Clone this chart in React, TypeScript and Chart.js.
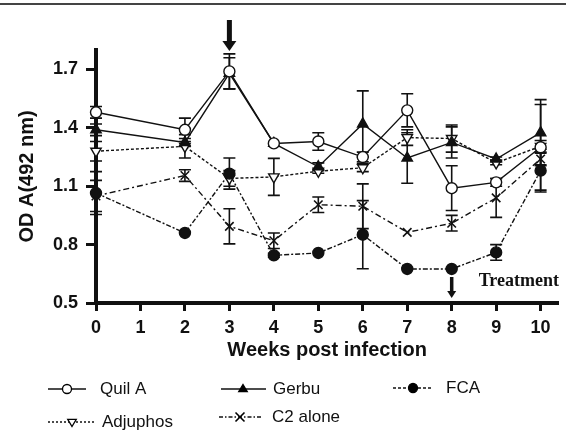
import React, { useEffect, useRef } from 'react';
import { Chart, registerables } from 'chart.js';

Chart.register(...registerables);

// ---- data ----
const weeks = [0, 2, 3, 4, 5, 6, 7, 8, 9, 10];
const xTickValues = [0, 1, 2, 3, 4, 5, 6, 7, 8, 9, 10];
const yTickValues = [0.5, 0.8, 1.1, 1.4, 1.7];

const quilA = [1.48, 1.39, 1.69, 1.32, 1.33, 1.25, 1.49, 1.09, 1.12, 1.3];
const quilAErr = [0.03, 0.06, 0.09, 0.0, 0.045, 0.025, 0.085, 0.115, 0.02, 0.22];

const gerbu = [1.39, 1.325, 1.68, 1.32, 1.2, 1.42, 1.245, 1.325, 1.24, 1.375];
const gerbuErr = [0.03, 0.02, 0.08, 0.0, 0.02, 0.17, 0.13, 0.08, 0.01, 0.17];

const fca = [1.065, 0.86, 1.165, 0.745, 0.757, 0.851, 0.675, 0.675, 0.76, 1.18];
const fcaErr = [0.11, 0.0, 0.08, 0.01, 0.0, 0.175, 0.0, 0.0, 0.04, 0.11];

const adjuphos = [1.28, 1.305, 1.14, 1.148, 1.177, 1.195, 1.35, 1.345, 1.22, 1.305];
const adjuphosErr = [0.05, 0.06, 0.04, 0.095, 0.01, 0.02, 0.04, 0.07, 0.01, 0.03];

const c2alone = [1.05, 1.155, 0.894, 0.82, 1.005, 0.997, 0.863, 0.91, 1.04, 1.24];
const c2aloneErr = [0.08, 0.03, 0.09, 0.04, 0.04, 0.115, 0.0, 0.04, 0.1, 0.03];

const seriesNames = ['Quil A', 'Gerbu', 'FCA', 'Adjuphos', 'C2 alone'];
const arrowWeeks = [3, 8];
const treatmentLabel = 'Treatment';
const xTitle = 'Weeks post infection';
const yTitle = 'OD A(492 nm)';

const SANS = '"Liberation Sans", Arial, Helvetica, sans-serif';
const SERIF = '"Liberation Serif", "Times New Roman", serif';

const toXY = (vals: number[]) => weeks.map((w, i) => ({ x: w, y: vals[i] }));

type Marker = 'circleOpen' | 'triUp' | 'circleFilled' | 'triDownOpen' | 'cross';

const styles: { marker: Marker; dash: number[]; legendDash: number[] }[] = [
  { marker: 'circleOpen', dash: [], legendDash: [] },
  { marker: 'triUp', dash: [], legendDash: [] },
  { marker: 'circleFilled', dash: [5, 2, 2, 2], legendDash: [3, 2] },
  { marker: 'triDownOpen', dash: [3, 2], legendDash: [2, 2] },
  { marker: 'cross', dash: [6, 3, 2, 3], legendDash: [4, 2, 1.5, 2] },
];

const errorSets = [quilAErr, gerbuErr, fcaErr, adjuphosErr, c2aloneErr];

function drawMarker(ctx: CanvasRenderingContext2D, m: Marker, x: number, y: number, r: number) {
  ctx.save();
  ctx.setLineDash([]);
  ctx.lineWidth = 1.3;
  ctx.strokeStyle = '#000';
  ctx.fillStyle = '#000';
  ctx.beginPath();
  if (m === 'circleOpen' || m === 'circleFilled') {
    ctx.arc(x, y, r, 0, Math.PI * 2);
    ctx.fillStyle = m === 'circleOpen' ? '#fff' : '#000';
    ctx.fill();
    ctx.stroke();
  } else if (m === 'triUp' || m === 'triDownOpen') {
    const s = m === 'triUp' ? 1 : -1;
    ctx.moveTo(x, y - s * r);
    ctx.lineTo(x + r * 0.95, y + s * r * 0.6);
    ctx.lineTo(x - r * 0.95, y + s * r * 0.6);
    ctx.closePath();
    ctx.fillStyle = m === 'triUp' ? '#000' : '#fff';
    ctx.fill();
    ctx.stroke();
  } else {
    ctx.lineWidth = 1.6;
    ctx.moveTo(x - r, y - r);
    ctx.lineTo(x + r, y + r);
    ctx.moveTo(x + r, y - r);
    ctx.lineTo(x - r, y + r);
    ctx.stroke();
  }
  ctx.restore();
}

const decorPlugin = {
  id: 'decor',
  beforeDraw(chart: any) {
    const ctx = chart.ctx as CanvasRenderingContext2D;
    ctx.save();
    ctx.strokeStyle = '#444';
    ctx.lineWidth = 2;
    ctx.beginPath();
    ctx.moveTo(0, 4);
    ctx.lineTo(chart.width, 4);
    ctx.stroke();
    ctx.restore();
  },
  beforeDatasetsDraw(chart: any) {
    const ctx = chart.ctx as CanvasRenderingContext2D;
    const xs = chart.scales.x;
    const ys = chart.scales.y;
    const sets = [quilA, gerbu, fca, adjuphos, c2alone];
    ctx.save();
    ctx.strokeStyle = '#111';
    ctx.lineWidth = 1.6;
    ctx.setLineDash([]);
    sets.forEach((vals, si) => {
      const errs = errorSets[si];
      vals.forEach((v, i) => {
        const e = errs[i];
        if (!e) return;
        const px = xs.getPixelForValue(weeks[i]);
        const top = ys.getPixelForValue(v + e);
        const bot = ys.getPixelForValue(v - e);
        ctx.beginPath();
        ctx.moveTo(px, top);
        ctx.lineTo(px, bot);
        ctx.moveTo(px - 6, top);
        ctx.lineTo(px + 6, top);
        ctx.moveTo(px - 6, bot);
        ctx.lineTo(px + 6, bot);
        ctx.stroke();
      });
    });
    ctx.restore();
  },
  afterDraw(chart: any) {
    const ctx = chart.ctx as CanvasRenderingContext2D;
    const xs = chart.scales.x;
    const area = chart.chartArea;
    ctx.save();
    ctx.fillStyle = '#111';
    // arrow at week 3 (top)
    const a1 = xs.getPixelForValue(arrowWeeks[0]);
    ctx.fillRect(a1 - 2.5, area.top - 30, 5, 22);
    ctx.beginPath();
    ctx.moveTo(a1 - 7, area.top - 9);
    ctx.lineTo(a1 + 7, area.top - 9);
    ctx.lineTo(a1, area.top + 1);
    ctx.closePath();
    ctx.fill();
    // arrow at week 8 (treatment)
    const a2 = xs.getPixelForValue(arrowWeeks[1]);
    ctx.fillRect(a2 - 1.75, area.bottom - 26, 3.5, 15);
    ctx.beginPath();
    ctx.moveTo(a2 - 4.5, area.bottom - 12);
    ctx.lineTo(a2 + 4.5, area.bottom - 12);
    ctx.lineTo(a2, area.bottom - 5);
    ctx.closePath();
    ctx.fill();
    // Treatment label
    ctx.font = `bold 18px ${SERIF}`;
    ctx.textBaseline = 'middle';
    ctx.textAlign = 'left';
    ctx.fillText(treatmentLabel, a2 + 27, area.bottom - 22);

    // legend
    const items = [
      { x1: 48, x2: 86, mx: 67, tx: 100, y: 389 },
      { x1: 221, x2: 266, mx: 243, tx: 273, y: 389 },
      { x1: 393, x2: 432, mx: 413, tx: 446, y: 388 },
      { x1: 48, x2: 95, mx: 72, tx: 102, y: 422 },
      { x1: 219, x2: 263, mx: 240, tx: 272, y: 417 },
    ];
    items.forEach((it, i) => {
      const st = styles[i];
      ctx.save();
      ctx.strokeStyle = '#111';
      ctx.lineWidth = 1.3;
      ctx.setLineDash(st.legendDash);
      ctx.beginPath();
      ctx.moveTo(it.x1, it.y);
      ctx.lineTo(it.x2, it.y);
      ctx.stroke();
      ctx.restore();
      drawMarker(ctx, st.marker, it.mx, it.y, 4.5);
      ctx.fillStyle = '#111';
      ctx.font = `17px ${SANS}`;
      ctx.textBaseline = 'middle';
      ctx.textAlign = 'left';
      ctx.fillText(seriesNames[i], it.tx, it.y);
    });
    ctx.restore();
  },
};

export default function App() {
  const ref = useRef<HTMLCanvasElement | null>(null);

  useEffect(() => {
    if (!ref.current) return;
    const common = {
      borderColor: '#111',
      borderWidth: 1.4,
      pointBorderColor: '#111',
      pointBorderWidth: 1.4,
      pointRadius: 5.5,
      pointHoverRadius: 5.5,
      fill: false,
      tension: 0,
      clip: false as const,
    };
    const chart = new Chart(ref.current, {
      type: 'line',
      data: {
        datasets: [
          {
            ...common,
            label: seriesNames[0],
            data: toXY(quilA),
            pointStyle: 'circle',
            pointBackgroundColor: '#fff',
          },
          {
            ...common,
            label: seriesNames[1],
            data: toXY(gerbu),
            pointStyle: 'triangle',
            pointBackgroundColor: '#111',
            pointRadius: 6,
          },
          {
            ...common,
            label: seriesNames[2],
            data: toXY(fca),
            pointStyle: 'circle',
            pointBackgroundColor: '#111',
            borderDash: styles[2].dash,
          },
          {
            ...common,
            label: seriesNames[3],
            data: toXY(adjuphos),
            pointStyle: 'triangle',
            pointRotation: 180,
            pointRadius: 6,
            pointBackgroundColor: '#fff',
            borderDash: styles[3].dash,
          },
          {
            ...common,
            label: seriesNames[4],
            data: toXY(c2alone),
            pointStyle: 'crossRot',
            pointRadius: 6,
            pointBorderWidth: 1.6,
            borderDash: styles[4].dash,
          },
        ],
      },
      options: {
        responsive: false,
        animation: false,
        devicePixelRatio: 1,
        layout: { padding: { top: 50, left: 0, right: 4, bottom: 69 } },
        plugins: {
          legend: { display: false },
          tooltip: { enabled: false },
        },
        scales: {
          x: {
            type: 'linear',
            min: 0,
            max: 10.4,
            afterBuildTicks: (s: any) => {
              s.ticks = xTickValues.map((v) => ({ value: v }));
            },
            afterFit: (s: any) => {
              s.height = 60;
            },
            grid: {
              display: true,
              drawOnChartArea: false,
              drawTicks: true,
              tickLength: 8,
              tickWidth: 3,
              tickColor: '#111',
            },
            border: { display: true, color: '#111', width: 4 },
            ticks: {
              color: '#111',
              padding: 6,
              maxRotation: 0,
              autoSkip: false,
              font: { family: SANS, size: 18, weight: 'bold' },
            },
            title: {
              display: true,
              text: xTitle,
              color: '#111',
              padding: { top: 0, bottom: 1 },
              font: { family: SANS, size: 20, weight: 'bold' },
            },
          },
          y: {
            type: 'linear',
            min: 0.5,
            max: 1.8,
            afterBuildTicks: (s: any) => {
              s.ticks = yTickValues.map((v) => ({ value: v }));
            },
            afterFit: (s: any) => {
              s.width = 96;
            },
            grid: {
              display: true,
              drawOnChartArea: false,
              drawTicks: true,
              tickLength: 10,
              tickWidth: 3,
              tickColor: '#111',
            },
            border: { display: true, color: '#111', width: 4 },
            ticks: {
              color: '#111',
              padding: 8,
              autoSkip: false,
              font: { family: SANS, size: 18, weight: 'bold' },
              callback: (v: any) => Number(v).toFixed(1),
            },
            title: {
              display: true,
              text: yTitle,
              color: '#111',
              padding: { top: 15, bottom: 0 },
              font: { family: SANS, size: 20, weight: 'bold' },
            },
          },
        },
      },
      plugins: [decorPlugin],
    } as any);
    return () => chart.destroy();
  }, []);

  return (
    <div style={{ position: 'absolute', left: 0, top: 0, width: 566, height: 432, background: '#fff' }}>
      <canvas ref={ref} width={566} height={432} style={{ display: 'block' }} />
    </div>
  );
}
